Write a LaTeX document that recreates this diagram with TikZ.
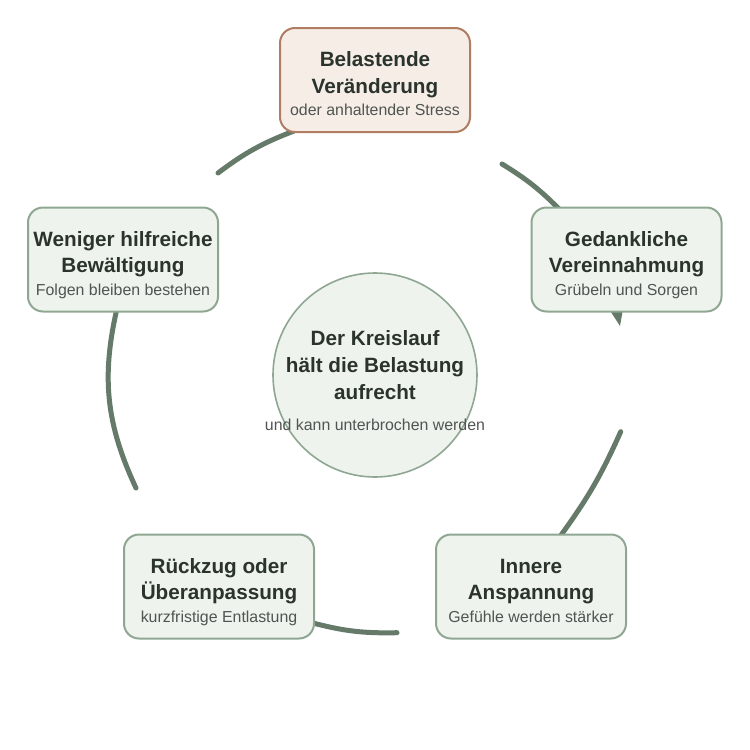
\documentclass[tikz,border=0pt]{standalone}
\usepackage{fontspec}
\setmainfont{Liberation Sans}
\usetikzlibrary{backgrounds}
\definecolor{pfeil}{RGB}{101,122,105}
\definecolor{boxrand}{RGB}{143,167,146}
\definecolor{boxfill}{RGB}{239,243,237}
\definecolor{startrand}{RGB}{176,125,99}
\definecolor{startfill}{RGB}{246,237,231}
\definecolor{titel}{RGB}{43,51,45}
\definecolor{untertext}{RGB}{80,85,81}
\newcommand{\unter}[1]{{\fontsize{15.9}{19}\selectfont\mdseries\color{untertext}#1}}
\newcommand{\feld}[3]{#1\\#2\\[-3.8pt]\unter{#3}}

\begin{document}
\begin{tikzpicture}[x=1pt,y=1pt,
    kasten/.style={draw=boxrand,fill=boxfill,line width=2pt,rounded corners=15pt,
      minimum width=190pt,minimum height=104pt,inner sep=0pt,align=center,
      text=titel,font=\fontsize{20.7}{26.5}\selectfont\bfseries,
      text height=74.7pt,text depth=3.3pt},
    bogen/.style={draw=pfeil,line width=5pt,line cap=round}]
    \useasboundingbox (0,0) rectangle (750,-750);

    \node[kasten,draw=startrand,fill=startfill] (belastung) at (375,-80) {\feld{Belastende}{Veränderung}{oder anhaltender Stress}};
    \node[kasten] (gedanken) at (626.5,-259.5) {\feld{Gedankliche}{Vereinnahmung}{Grübeln und Sorgen}};
    \node[kasten] (anspannung) at (531,-586.5) {\feld{Innere}{Anspannung}{Gefühle werden stärker}};
    \node[kasten] (rueckzug) at (219,-586.5) {\feld{Rückzug oder}{Überanpassung}{kurzfristige Entlastung}};
    \node[kasten] (bewaeltigung) at (123,-259.5) {\feld{Weniger hilfreiche}{Bewältigung}{Folgen bleiben bestehen}};

    \node[circle,draw=boxrand,fill=boxfill,line width=1.6pt,minimum size=204pt,inner sep=0pt,
      align=center,text=titel,font=\fontsize{20.7}{26.8}\selectfont\bfseries,
      text height=53.6pt,text depth=5pt] (kreis) at (375,-375) {Der Kreislauf\\hält die Belastung\\aufrecht};
    \node[anchor=base,inner sep=0pt,font=\fontsize{15.9}{19}\selectfont,text=untertext] (kreisunter)
      at ([yshift=-55pt]kreis.center) {und kann unterbrochen werden};

    \begin{pgfonlayer}{background}
      \coordinate (b1) at (218,-173);
      \coordinate (b2) at (502,-164);
      \coordinate (b3) at (620.7,-431.7);
      \coordinate (b4) at (397,-632.7);
      \coordinate (b5) at (136,-488);
      \draw[bogen] (b1) to[bend left=8] ([xshift=15pt,yshift=2pt]belastung.south west);
      \draw[bogen] (b2) to[bend left=7] ([xshift=30pt,yshift=-4pt]gedanken.north west);
      \draw[bogen] (b3) to[bend left=6] ([xshift=125pt,yshift=-3pt]anspannung.north west);
      \draw[bogen] (b4) to[bend left=8] ([xshift=-4pt,yshift=-36pt]rueckzug.east);
      \draw[bogen] (b5) to[bend left=19] ([xshift=-6pt,yshift=4pt]bewaeltigung.south);
      \fill[pfeil] (609,-309) -- (623,-309) -- (620,-326) -- cycle;
    \end{pgfonlayer}
\end{tikzpicture}
\end{document}
